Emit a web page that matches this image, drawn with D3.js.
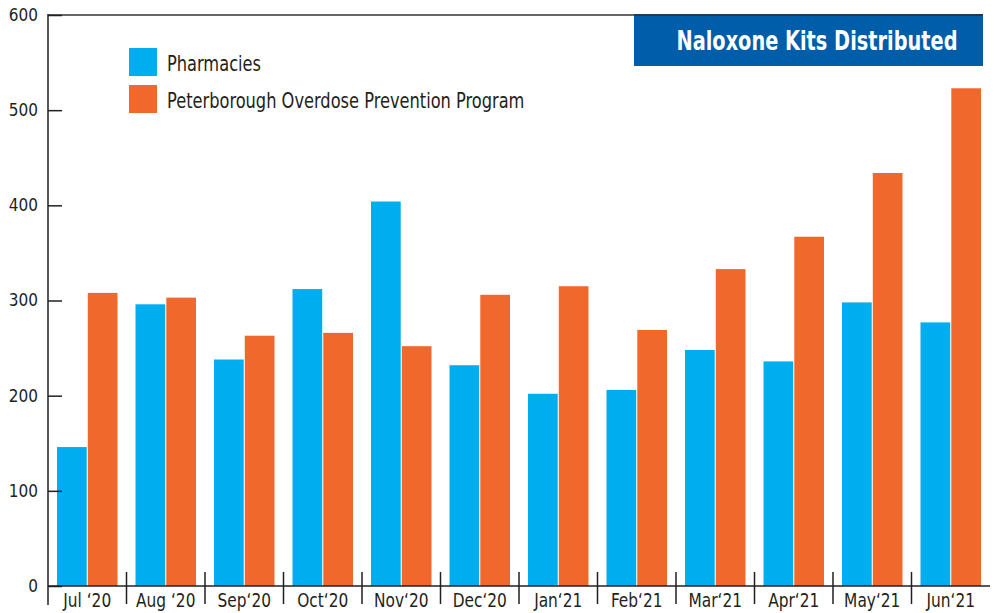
<!DOCTYPE html>
<html lang="en">
<head>
<meta charset="utf-8">
<style>
  body { margin: 0; background: #fff; }
  text { font-family: "Liberation Sans Narrow", "DejaVu Sans Condensed", "Roboto", sans-serif; }
</style>
</head>
<body>
<script src="https://cdn.jsdelivr.net/npm/d3@7/dist/d3.min.js"></script>
<script>

var months = ["Jul\u00a0\u201820", "Aug\u00a0\u201820", "Sep\u201820", "Oct\u201820", "Nov\u201820", "Dec\u201820",
              "Jan\u201821", "Feb\u201821", "Mar\u201821", "Apr\u201821", "May\u201821", "Jun\u201821"];
var seriesNames = ["Pharmacies", "Peterborough Overdose Prevention Program"];
var pharmacies = [146, 296, 238, 312, 404, 232, 202, 206, 248, 236, 298, 277];
var popp = [308, 303, 263, 266, 252, 306, 315, 269, 333, 367, 434, 523];
var yTicks = [0, 100, 200, 300, 400, 500, 600];
var title = "Naloxone Kits Distributed";

var colors = ["#00aeef", "#f1682d"];

var W = 996, H = 613;
var margin = {top: 15, right: 6, bottom: 27, left: 48};
var width = W - margin.left - margin.right,
    height = H - margin.top - margin.bottom;

// squeeze a text horizontally so it looks like a condensed face
function condense(sel, k) {
  sel.each(function() {
    var w = this.getComputedTextLength();
    d3.select(this).attr("textLength", w * k).attr("lengthAdjust", "spacingAndGlyphs");
  });
}

var svg = d3.select("body").append("svg")
  .attr("width", W)
  .attr("height", H);

var g = svg.append("g")
  .attr("transform", "translate(" + margin.left + "," + margin.top + ")");

var x = d3.scaleBand().domain(months).range([0, width]);
var x1 = d3.scaleBand().domain([0, 1]).range([9, x.bandwidth() - 9]).paddingInner(0.035);
var y = d3.scaleLinear().domain([0, 600]).range([height, 0]);

// top frame line
g.append("line")
  .attr("x1", 0).attr("x2", width - 7)
  .attr("y1", 0).attr("y2", 0)
  .attr("stroke", "#666").attr("stroke-width", 2);

// bars
var rows = months.map(function(m, i) { return {m: m, v: [pharmacies[i], popp[i]]}; });

var grp = g.selectAll(".month")
  .data(rows)
  .enter().append("g")
  .attr("class", "month")
  .attr("transform", function(d) { return "translate(" + x(d.m) + ",0)"; });

grp.selectAll("rect")
  .data(function(d) { return d.v; })
  .enter().append("rect")
  .attr("x", function(d, i) { return x1(i); })
  .attr("width", x1.bandwidth())
  .attr("y", function(d) { return y(d); })
  .attr("height", function(d) { return y(0) - y(d); })
  .attr("fill", function(d, i) { return colors[i]; });

// y axis
var yAxis = g.append("g")
  .call(d3.axisLeft(y).tickValues(yTicks).tickSize(0).tickPadding(10));
yAxis.select(".domain").remove();
yAxis.selectAll("text")
  .attr("font-size", 17).attr("fill", "#231f20")
  .style("font-family", "'DejaVu Sans Condensed', sans-serif");
yAxis.selectAll(".tick").append("line")
  .attr("x1", 0).attr("x2", 14)
  .attr("stroke", "#231f20").attr("stroke-width", 1.5);
g.append("line")
  .attr("x1", 0).attr("x2", 0)
  .attr("y1", -1).attr("y2", height + 19)
  .attr("stroke", "#231f20").attr("stroke-width", 1.5);

// x axis
g.append("line")
  .attr("x1", 0).attr("x2", width)
  .attr("y1", height).attr("y2", height)
  .attr("stroke", "#231f20").attr("stroke-width", 1.5);

g.selectAll(".sep")
  .data(months.slice(1))
  .enter().append("line")
  .attr("class", "sep")
  .attr("x1", function(d) { return x(d); })
  .attr("x2", function(d) { return x(d); })
  .attr("y1", height - 14).attr("y2", height + 18)
  .attr("stroke", "#231f20").attr("stroke-width", 1.5);

g.selectAll(".mlabel")
  .data(months)
  .enter().append("text")
  .attr("class", "mlabel")
  .attr("x", function(d) { return x(d) + x.bandwidth() / 2; })
  .attr("y", height + 21)
  .attr("text-anchor", "middle")
  .attr("font-size", 19)
  .attr("fill", "#231f20")
  .text(function(d) { return d; })
  .call(condense, 0.9);

// legend
var legend = g.selectAll(".legend")
  .data(seriesNames)
  .enter().append("g")
  .attr("class", "legend")
  .attr("transform", function(d, i) { return "translate(81," + (33 + i * 37) + ")"; });

legend.append("rect")
  .attr("width", 28).attr("height", 28)
  .attr("fill", function(d, i) { return colors[i]; });

legend.append("text")
  .attr("x", 38).attr("y", 23)
  .attr("font-size", 22)
  .attr("fill", "#231f20")
  .text(function(d) { return d; })
  .call(condense, 0.82);

// title box
var tb = g.append("g").attr("transform", "translate(586,0)");
tb.append("rect")
  .attr("width", 349).attr("height", 51)
  .attr("fill", "#005daa");
tb.append("line")
  .attr("x1", 0).attr("x2", 349).attr("y1", 0).attr("y2", 0)
  .attr("stroke", "#1b3a5c").attr("stroke-width", 2);
tb.append("text")
  .attr("x", 183).attr("y", 35)
  .attr("text-anchor", "middle")
  .attr("font-size", 27)
  .attr("font-weight", "bold")
  .attr("fill", "#fff")
  .attr("textLength", 281)
  .attr("lengthAdjust", "spacingAndGlyphs")
  .text(title);

</script>
</body>
</html>
